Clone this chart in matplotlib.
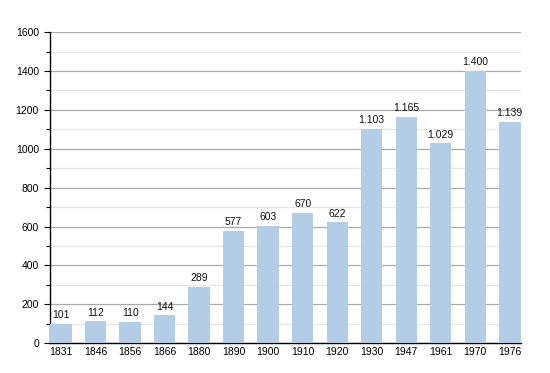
import matplotlib
matplotlib.use('Agg')
import matplotlib.pyplot as plt
import numpy as np

# Datos del grafico
anios = ['1831', '1846', '1856', '1866', '1880', '1890', '1900', '1910', '1920',
         '1930', '1947', '1961', '1970', '1976']
poblacion = [101, 112, 110, 144, 289, 577, 603, 670, 622, 1103, 1165, 1029, 1400, 1139]
etiquetas = ['101', '112', '110', '144', '289', '577', '603', '670', '622',
             '1.103', '1.165', '1.029', '1.400', '1.139']

plt.rcParams['font.family'] = ['Liberation Sans', 'DejaVu Sans']

fig = plt.figure(figsize=(5.5, 3.73), dpi=100)
ax = fig.add_axes([0.091, 0.080, 0.856, 0.834])

x = np.arange(len(anios))
ax.bar(x, poblacion, width=0.62, color='#b3cde6', zorder=3)

for xi, v, t in zip(x, poblacion, etiquetas):
	ax.text(xi, v + 18, t, ha='center', va='bottom', fontsize=7.5, color='#111111', zorder=4)

ax.set_xlim(-0.32, len(anios) - 1 + 0.32)
ax.set_ylim(0, 1600)
ax.set_yticks(np.arange(0, 1601, 200))
ax.set_yticks(np.arange(100, 1600, 200), minor=True)
ax.set_xticks(x)
ax.set_xticklabels(anios)

ax.grid(axis='y', which='major', color='#aaaaaa', linewidth=0.9, zorder=0)
ax.grid(axis='y', which='minor', color='#e6e6e6', linewidth=0.9, zorder=0)

for lado in ['top', 'right']:
	ax.spines[lado].set_visible(False)
ax.spines['left'].set_linewidth(1.0)
ax.spines['bottom'].set_linewidth(1.0)

ax.tick_params(axis='y', which='major', length=4, width=0.8, labelsize=7.5, pad=4)
ax.tick_params(axis='y', which='minor', length=3, width=0.8)
ax.tick_params(axis='x', length=0, labelsize=7.5, pad=3)

fig.savefig('out.png', dpi=100)
